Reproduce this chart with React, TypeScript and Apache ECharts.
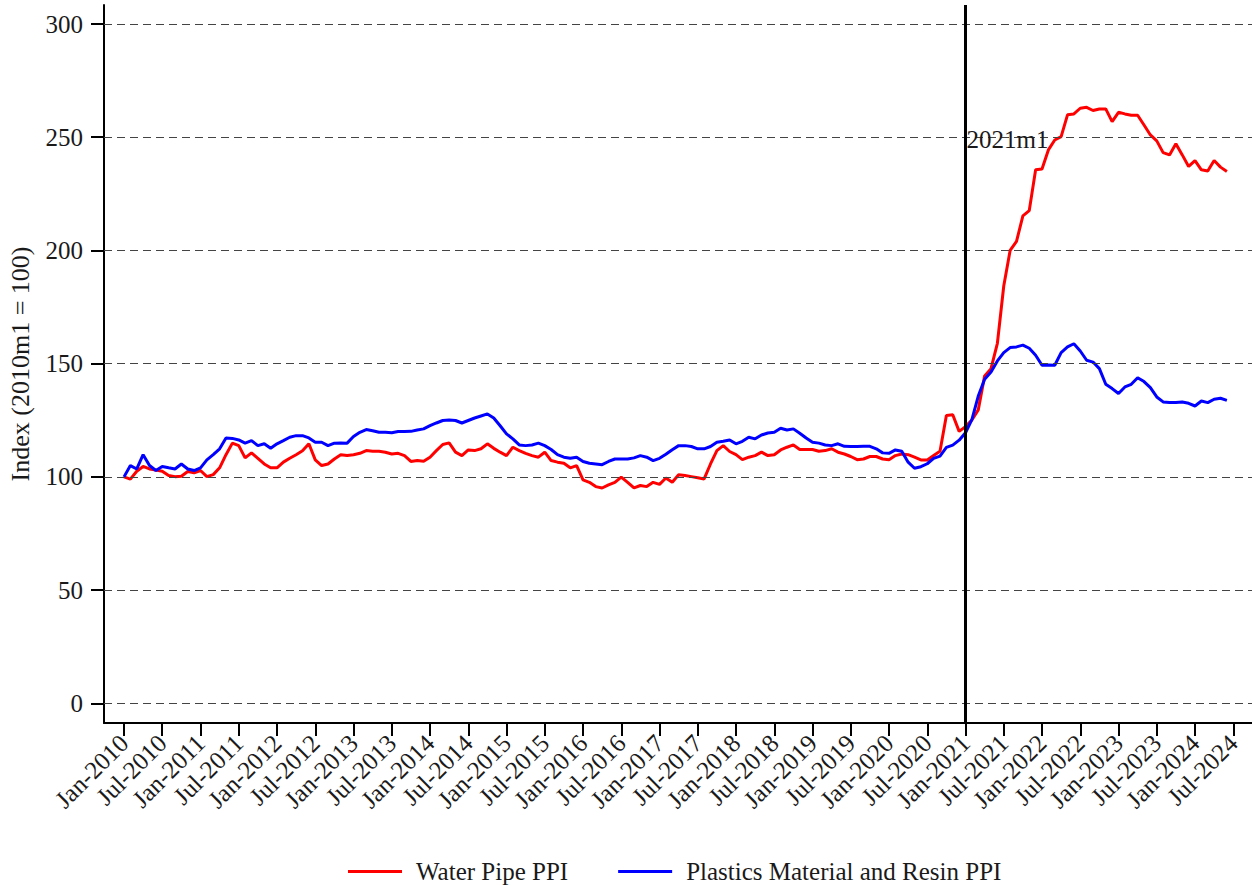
import React, { useEffect, useRef } from "react";
import * as echarts from "echarts";

// Monthly index values, Jan-2010 (index 0) .. Jun-2024 (index 173)
const waterPipePPI = [
  100, 99, 102.5, 104.6, 103.5, 103, 102.5, 100.6, 100.1, 100.3, 102.4, 101.8,
  102.8, 100.1, 101, 104, 109.8, 114.9, 113.8, 108.4, 110.6, 108.2, 105.7, 104,
  104, 106.5, 108.2, 109.8, 111.5, 114.6, 107.5, 105, 105.7, 107.9, 109.8, 109.4,
  109.8, 110.4, 111.6, 111.3, 111.3, 110.9, 110.1, 110.4, 109.4, 106.8, 107.2, 106.9,
  108.7, 111.6, 114.3, 115, 110.9, 109.4, 111.9, 111.6, 112.4, 114.6, 112.6, 110.9,
  109.4, 113.1, 111.6, 110.4, 109.4, 108.7, 110.9, 107.2, 106.5, 106, 104, 105,
  98.7, 97.6, 95.7, 95.1, 96.5, 97.6, 99.9, 97.6, 95.1, 96.2, 95.7, 97.6,
  96.7, 99.5, 97.6, 100.9, 100.6, 100.1, 99.6, 99.1, 105.7, 111.6, 113.8, 111.2,
  109.8, 107.6, 108.7, 109.4, 110.9, 109.4, 109.8, 111.9, 113.1, 114.1, 112.1, 112.1,
  112.1, 111.3, 111.6, 112.4, 110.9, 110.1, 109, 107.6, 107.9, 109, 109, 107.9,
  107.6, 109.4, 110.1, 109.8, 108.7, 107.5, 107.5, 109.4, 111.3, 127.1, 127.4, 120.1,
  122.2, 125.1, 129.6, 144.6, 147.8, 159, 184.3, 200, 204, 215.3, 217.6, 235.6,
  236, 244.4, 248.8, 250.3, 259.9, 260.3, 262.8, 263.2, 261.8, 262.5, 262.5, 256.9,
  261, 260.3, 259.7, 259.7, 255.4, 251, 248.4, 243.2, 242.2, 247.1, 242.2, 237.1,
  239.7, 235.6, 235.1, 239.7, 236.8, 234.9,
];

const resinPPI = [
  100, 105, 103.5, 109.8, 105, 102.8, 104.6, 104, 103.5, 105.7, 103.5, 102.8,
  104, 107.5, 109.8, 112.4, 117.2, 117, 116.3, 114.9, 116, 113.8, 114.6, 112.6,
  114.6, 116, 117.5, 118.2, 118.2, 117.2, 115.3, 115.3, 113.8, 114.9, 115, 114.9,
  117.8, 119.7, 120.9, 120.4, 119.7, 119.7, 119.5, 120, 120, 120.1, 120.7, 121.2,
  122.6, 123.8, 124.9, 125.1, 124.9, 123.8, 124.9, 126, 126.9, 127.8, 126, 122.6,
  119, 116.8, 114.1, 113.8, 114.1, 114.9, 113.8, 112.1, 109.8, 108.7, 108.2, 108.7,
  106.8, 106, 105.7, 105.4, 106.8, 107.9, 107.9, 107.9, 108.4, 109.4, 108.7, 107.2,
  108.2, 110, 112, 113.8, 113.8, 113.4, 112.4, 112.4, 113.4, 115.3, 115.7, 116.3,
  114.6, 115.7, 117.5, 116.8, 118.5, 119.4, 119.7, 121.5, 120.7, 121.2, 119.3, 117.2,
  115.3, 114.9, 114.1, 113.8, 114.6, 113.5, 113.4, 113.4, 113.5, 113.5, 112.4, 110.6,
  110.4, 111.9, 111.3, 106.5, 103.8, 104.5, 105.8, 108.2, 109.2, 113, 114, 116.2,
  119.5, 125.3, 135.7, 143.1, 146.3, 151.2, 154.9, 157.1, 157.4, 158.2, 156.8, 153.7,
  149.3, 149.4, 149.3, 154.9, 157.4, 158.8, 155.6, 151.5, 150.7, 147.8, 140.9, 139,
  136.8, 139.7, 140.9, 143.8, 142.1, 139.4, 135.3, 133.1, 132.8, 132.8, 133.1, 132.5,
  131.3, 133.5, 132.8, 134.3, 134.7, 133.8,
];

const tickLabels = [
  "Jan-2010", "Jul-2010", "Jan-2011", "Jul-2011", "Jan-2012", "Jul-2012",
  "Jan-2013", "Jul-2013", "Jan-2014", "Jul-2014", "Jan-2015", "Jul-2015",
  "Jan-2016", "Jul-2016", "Jan-2017", "Jul-2017", "Jan-2018", "Jul-2018",
  "Jan-2019", "Jul-2019", "Jan-2020", "Jul-2020", "Jan-2021", "Jul-2021",
  "Jan-2022", "Jul-2022", "Jan-2023", "Jul-2023", "Jan-2024", "Jul-2024",
];
const tickMonths = tickLabels.map((_, i) => i * 6);
const yTicks = [0, 50, 100, 150, 200, 250, 300];

const eventMonth = 132;
const eventLabel = "2021m1";
const eventLabelValue = 249;

const seriesNames = ["Water Pipe PPI", "Plastics Material and Resin PPI"];
const yAxisTitle = "Index (2010m1 = 100)";

export default function App() {
  const ref = useRef<HTMLDivElement>(null);
  useEffect(() => {
    if (!ref.current) return;
    const chart = echarts.init(ref.current, null, { renderer: "svg" });
    const font = "'Liberation Serif', 'Times New Roman', serif";
    const textColor = "#1a1a1a";
    chart.setOption({
      animation: false,
      backgroundColor: "#ffffff",
      grid: {
        left: 104,
        right: 0,
        top: 5,
        bottom: 165,
        containLabel: false,
        outerBoundsMode: "none",
      },
      xAxis: {
        type: "value",
        min: -3.137,
        max: 176.94,
        axisLine: { show: true, onZero: false, lineStyle: { color: "#000", width: 2 } },
        axisTick: {
          show: true,
          length: 13,
          customValues: tickMonths,
          lineStyle: { color: "#000", width: 2 },
        },
        axisLabel: {
          customValues: tickMonths,
          rotate: 45,
          margin: 16,
          fontFamily: font,
          fontSize: 25,
          color: textColor,
          formatter: (v: number) => tickLabels[Math.round(v / 6)] ?? "",
        },
        splitLine: { show: false },
      },
      yAxis: {
        type: "value",
        min: -8.7,
        max: 308.4,
        name: yAxisTitle,
        nameLocation: "middle",
        nameGap: 71,
        nameRotate: 90,
        nameTextStyle: { fontFamily: font, fontSize: 26, color: textColor },
        axisLine: { show: true, onZero: false, lineStyle: { color: "#000", width: 2 } },
        axisTick: {
          show: true,
          length: 13,
          customValues: yTicks,
          lineStyle: { color: "#000", width: 2 },
        },
        axisLabel: {
          customValues: yTicks,
          margin: 21,
          fontFamily: font,
          fontSize: 25,
          color: textColor,
        },
        splitLine: { show: false },
      },
      legend: {
        data: seriesNames,
        left: 348,
        top: 859,
        padding: 0,
        icon: "rect",
        itemWidth: 54,
        itemHeight: 3,
        itemGap: 50,
        textStyle: { fontFamily: font, fontSize: 25, color: textColor, padding: [0, 0, 0, 9] },
      },
      series: [
        {
          type: "line",
          data: [],
          z: 1,
          silent: true,
          markLine: {
            silent: true,
            symbol: ["none", "none"],
            label: { show: false },
            lineStyle: { color: "#444", type: [8, 5], width: 1.2 },
            data: yTicks.map((v) => ({ yAxis: v })),
          },
        },
        {
          type: "line",
          data: [],
          z: 1,
          silent: true,
          markLine: {
            silent: true,
            symbol: ["none", "none"],
            label: { show: false },
            lineStyle: { color: "#000", type: "solid", width: 3 },
            data: [{ xAxis: eventMonth }],
          },
          markPoint: {
            silent: true,
            symbol: "circle",
            symbolSize: 0,
            label: {
              show: true,
              position: "right",
              distance: 1,
              formatter: eventLabel,
              fontFamily: font,
              fontSize: 25,
              color: textColor,
            },
            data: [{ coord: [eventMonth, eventLabelValue] }],
          },
        },
        {
          name: seriesNames[0],
          type: "line",
          z: 3,
          showSymbol: false,
          color: "#ff0000",
          lineStyle: { color: "#ff0000", width: 3 },
          data: waterPipePPI.map((v, i) => [i, v]),
        },
        {
          name: seriesNames[1],
          type: "line",
          z: 3,
          showSymbol: false,
          color: "#0000ff",
          lineStyle: { color: "#0000ff", width: 3 },
          data: resinPPI.map((v, i) => [i, v]),
        },
      ],
    });
    return () => chart.dispose();
  }, []);
  return (
    <div
      ref={ref}
      style={{ position: "absolute", left: 0, top: 0, width: 1252, height: 888 }}
    />
  );
}
